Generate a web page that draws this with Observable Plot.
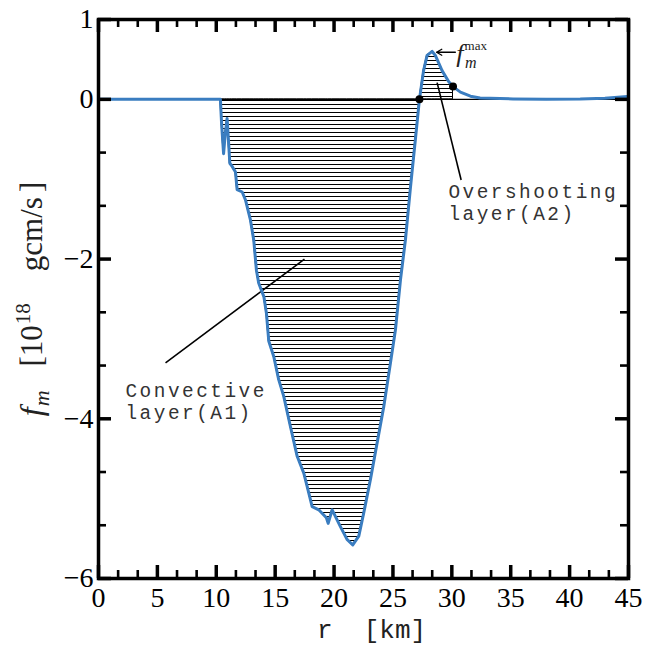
<!DOCTYPE html>
<html><head><meta charset="utf-8">
<script src="https://cdn.jsdelivr.net/npm/d3@7"></script>
<script src="https://cdn.jsdelivr.net/npm/@observablehq/plot@0.6"></script>
<style>body{margin:0;background:#fff}</style>
</head><body><div id="chart"></div>
<script>
// ---- data ----
const radius = [0, 10.35, 10.45, 10.62, 10.75, 10.92, 11.05, 11.15, 11.35, 11.63, 11.77, 12.2, 12.48, 12.9, 13.18, 13.41, 13.6, 14.04, 14.26, 14.46, 14.88, 15.3, 15.73, 16.3, 16.87, 17.43, 17.72, 18.14, 18.7, 19.35, 19.5, 19.84, 20.54, 21.1, 21.59, 22.1, 22.52, 23.09, 23.66, 24.22, 24.79, 25.21, 25.64, 26.06, 26.49, 26.9, 27.25, 27.6, 27.9, 28.33, 28.6, 29.17, 29.74, 30.1, 30.73, 31.58, 32.4, 35.2, 38, 40.9, 43, 44.9];
const fluxM = [0, 0, -0.3, -0.68, -0.45, -0.24, -0.55, -0.80, -0.84, -0.91, -1.13, -1.16, -1.26, -1.51, -1.76, -2.14, -2.3, -2.47, -2.68, -3.03, -3.22, -3.51, -3.72, -4.10, -4.47, -4.68, -4.85, -5.10, -5.14, -5.24, -5.31, -5.14, -5.35, -5.51, -5.58, -5.47, -5.18, -4.76, -4.30, -3.85, -3.30, -2.89, -2.26, -1.76, -1.10, -0.51, 0, 0.36, 0.55, 0.6, 0.55, 0.36, 0.22, 0.16, 0.09, 0.04, 0.017, 0.005, 0, 0.003, 0.015, 0.035];
const convectiveRange = [10.35, 27.25];
const overshootRange = [27.25, 30.1];
const markerR = [27.25, 30.1];
const markerF = [0, 0.16];
const leaders = [
  {r1: 5.69, f1: -3.30, r2: 17.49, f2: -2.00},
  {r1: 28.75, f1: 0.21, r2: 30.79, f2: -1.01}
];
const maxArrow = [{r1: 30.3, f1: 0.59, r2: 28.7, f2: 0.59}];
const layerLabels = [
  {r: 2.29, f: -3.78, text: "Convective\nlayer(A1)"},
  {r: 29.71, f: -1.28, text: "Overshooting\nlayer(A2)"}
];
const xTicks = [0, 5, 10, 15, 20, 25, 30, 35, 40, 45];
const yTicks = [1, 0, -2, -4, -6];
const yMinorTicks = [-2/3, -4/3, -8/3, -10/3, -14/3, -16/3];
const xMinorTicks = d3.range(0, 45.01, 5/3).filter(v => Math.abs(v/5 - Math.round(v/5)) > 1e-6);
const xLabel = "r\u00a0\u00a0[km]";
const yLabelPlain = "fm [1018 gcm/s]";
const yLabelParts = [
  {text: "f", italic: true, size: 32},
  {text: "m", italic: true, size: 22, dy: 7, dx: 1},
  {text: "[10", size: 31, dy: -7, dx: 24},
  {text: "18", size: 21, dy: -12, dx: 1},
  {text: "gcm/s", size: 31, dy: 12, dx: 32},
  {text: "]", size: 31, dx: 5}
];
const fmaxPlain = "fmmax";
const fmaxParts = [
  {text: "f", italic: true, size: 26},
  {text: "max", size: 13, dy: -12, dx: 1},
  {text: "m", italic: true, size: 16, dy: 17.5, dx: -22}
];

// ---- build ----
const curve = radius.map((r, i) => ({r, f: fluxM[i]}));
const markers = markerR.map((r, i) => ({r, f: markerF[i]}));
const W = 658, H = 647, mL = 98, mR = 30, mT = 19, mB = 69;
const pw = W - mL - mR, ph = H - mT - mB;
const serif = "'Liberation Serif', 'DejaVu Serif', serif";
const mono = "'Liberation Mono', 'DejaVu Sans Mono', monospace";
const blue = "#3a7dc0";

const svg = Plot.plot({
  width: W, height: H,
  marginLeft: mL, marginRight: mR, marginTop: mT, marginBottom: mB,
  style: {fontFamily: serif, fontSize: "28px", color: "black", background: "white"},
  x: {domain: [0, 45], ticks: xTicks, tickSize: 0, tickPadding: 9, tickFormat: d => String(d), label: null},
  y: {domain: [-6, 1], ticks: yTicks, tickSize: 0, tickPadding: 5, tickFormat: d => d < 0 ? "\u2212" + (-d) : String(d), label: null},
  marks: [
    Plot.areaY(curve.filter(d => d.r >= convectiveRange[0] && d.r <= convectiveRange[1]), {x: "r", y: "f", fill: "url(#hatch)", stroke: "black", strokeWidth: 1}),
    Plot.areaY(curve.filter(d => d.r >= overshootRange[0] && d.r <= overshootRange[1]), {x: "r", y: "f", fill: "url(#hatch)", stroke: "black", strokeWidth: 1}),
    Plot.ruleY([0], {stroke: "black", strokeWidth: 1.2}),
    Plot.link(leaders, {x1: "r1", y1: "f1", x2: "r2", y2: "f2", stroke: "black", strokeWidth: 1.6}),
    Plot.arrow(maxArrow, {x1: "r1", y1: "f1", x2: "r2", y2: "f2", stroke: "black", strokeWidth: 1.3, headLength: 7}),
    Plot.line(curve, {x: "r", y: "f", stroke: blue, strokeWidth: 3, strokeLinejoin: "round"}),
    Plot.dot(markers, {x: "r", y: "f", r: 4, fill: "black"}),
    // ticks (inward)
    Plot.tickX(xTicks, {x: d => d, insetTop: ph - 13, stroke: "black", strokeWidth: 3.5}),
    Plot.tickX(xTicks, {x: d => d, insetBottom: ph - 13, stroke: "black", strokeWidth: 3.5}),
    Plot.tickX(xMinorTicks, {x: d => d, insetTop: ph - 8, stroke: "black", strokeWidth: 2.6}),
    Plot.tickX(xMinorTicks, {x: d => d, insetBottom: ph - 8, stroke: "black", strokeWidth: 2.6}),
    Plot.tickY(yTicks, {y: d => d, insetRight: pw - 13, stroke: "black", strokeWidth: 3.5}),
    Plot.tickY(yTicks, {y: d => d, insetLeft: pw - 13, stroke: "black", strokeWidth: 3.5}),
    Plot.tickY(yMinorTicks, {y: d => d, insetRight: pw - 8, stroke: "black", strokeWidth: 2.6}),
    Plot.tickY(yMinorTicks, {y: d => d, insetLeft: pw - 8, stroke: "black", strokeWidth: 2.6}),
    Plot.frame({stroke: "black", strokeWidth: 3.5}),
    // texts
    Plot.text(layerLabels, {x: "r", y: "f", text: "text", textAnchor: "start", lineAnchor: "middle", lineHeight: 1.13, fontFamily: mono, fontSize: 19.4, fill: "#333"}),
    Plot.text(maxArrow, {x: "r1", y: "f1", text: d => fmaxPlain, textAnchor: "start", lineAnchor: "bottom", dx: 1, dy: 10, fill: "#222"}),
    Plot.text([xLabel], {frameAnchor: "bottom", text: d => d, lineAnchor: "bottom", dy: 59, dx: 8, fontFamily: mono, fontSize: 26, fill: "#222"}),
    Plot.text([yLabelPlain], {frameAnchor: "left", text: d => d, rotate: -90, textAnchor: "middle", lineAnchor: "bottom", dx: -57, dy: 0, fill: "#222"})
  ]
});

// hatch pattern
const defs = d3.select(svg).insert("defs", ":first-child");
defs.append("pattern").attr("id", "hatch").attr("patternUnits", "userSpaceOnUse")
  .attr("width", 8).attr("height", 4)
  .append("path").attr("d", "M-1,0.5H9").attr("stroke", "black").attr("stroke-width", 1);

// rich text (sub/superscripts)
function richText(plain, parts) {
  d3.select(svg).selectAll("text").filter(function() { return this.textContent === plain; }).each(function() {
    const t = d3.select(this);
    t.text(null);
    parts.forEach(p => {
      const s = t.append("tspan").text(p.text).attr("font-size", p.size);
      if (p.italic) s.attr("font-style", "italic");
      if (p.dy) s.attr("dy", p.dy);
      if (p.dx) s.attr("dx", p.dx);
    });
  });
}
richText(yLabelPlain, yLabelParts);
richText(fmaxPlain, fmaxParts);

// letter spacing for the typewriter annotations
d3.select(svg).selectAll("text").filter(function() {
  return /Convective|Overshooting/.test(this.textContent);
}).attr("letter-spacing", "2.5px");

document.getElementById("chart").appendChild(svg);
</script>
</body></html>
